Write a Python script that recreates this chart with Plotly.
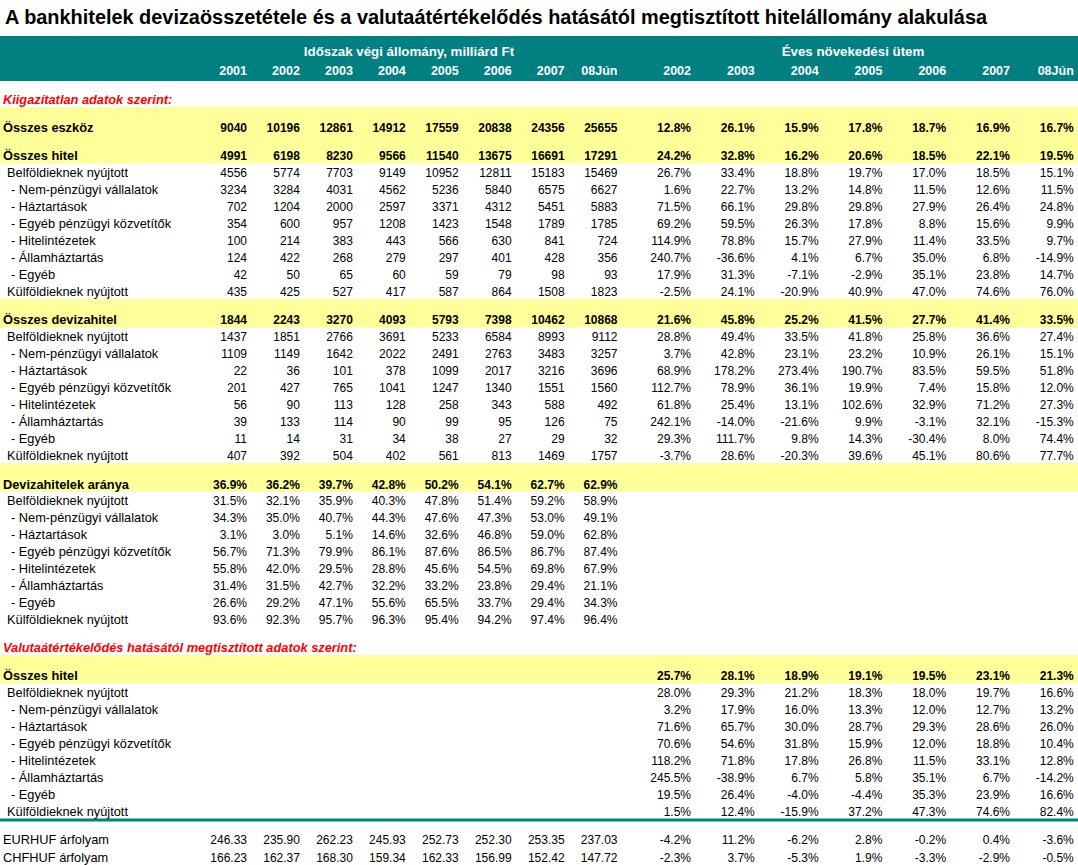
import plotly.graph_objects as go

# ---------------- data ----------------
title_text = "A bankhitelek devizaösszetétele és a valutaátértékelődés hatásától megtisztított hitelállomány alakulása"
header_stock = "Időszak végi állomány, milliárd Ft"
header_growth = "Éves növekedési ütem"
years_stock = ["2001", "2002", "2003", "2004", "2005", "2006", "2007", "08Jún"]
years_growth = ["2002", "2003", "2004", "2005", "2006", "2007", "08Jún"]

section1_label = "Kiigazítatlan adatok szerint:"
section2_label = "Valutaátértékelődés hatásától megtisztított adatok szerint:"

sub_labels = ["Belföldieknek nyújtott", "- Nem-pénzügyi vállalatok", "- Háztartások",
              "- Egyéb pénzügyi közvetítők", "- Hitelintézetek", "- Államháztartás",
              "- Egyéb", "Külföldieknek nyújtott"]
sub_levels = [1, 2, 2, 2, 2, 2, 2, 1]

eszkoz_stock = [9040, 10196, 12861, 14912, 17559, 20838, 24356, 25655]
eszkoz_growth = [12.8, 26.1, 15.9, 17.8, 18.7, 16.9, 16.7]

hitel_stock = [4991, 6198, 8230, 9566, 11540, 13675, 16691, 17291]
hitel_growth = [24.2, 32.8, 16.2, 20.6, 18.5, 22.1, 19.5]
hitel_sub_stock = [
    [4556, 5774, 7703, 9149, 10952, 12811, 15183, 15469],
    [3234, 3284, 4031, 4562, 5236, 5840, 6575, 6627],
    [702, 1204, 2000, 2597, 3371, 4312, 5451, 5883],
    [354, 600, 957, 1208, 1423, 1548, 1789, 1785],
    [100, 214, 383, 443, 566, 630, 841, 724],
    [124, 422, 268, 279, 297, 401, 428, 356],
    [42, 50, 65, 60, 59, 79, 98, 93],
    [435, 425, 527, 417, 587, 864, 1508, 1823],
]
hitel_sub_growth = [
    [26.7, 33.4, 18.8, 19.7, 17.0, 18.5, 15.1],
    [1.6, 22.7, 13.2, 14.8, 11.5, 12.6, 11.5],
    [71.5, 66.1, 29.8, 29.8, 27.9, 26.4, 24.8],
    [69.2, 59.5, 26.3, 17.8, 8.8, 15.6, 9.9],
    [114.9, 78.8, 15.7, 27.9, 11.4, 33.5, 9.7],
    [240.7, -36.6, 4.1, 6.7, 35.0, 6.8, -14.9],
    [17.9, 31.3, -7.1, -2.9, 35.1, 23.8, 14.7],
    [-2.5, 24.1, -20.9, 40.9, 47.0, 74.6, 76.0],
]

deviza_stock = [1844, 2243, 3270, 4093, 5793, 7398, 10462, 10868]
deviza_growth = [21.6, 45.8, 25.2, 41.5, 27.7, 41.4, 33.5]
deviza_sub_stock = [
    [1437, 1851, 2766, 3691, 5233, 6584, 8993, 9112],
    [1109, 1149, 1642, 2022, 2491, 2763, 3483, 3257],
    [22, 36, 101, 378, 1099, 2017, 3216, 3696],
    [201, 427, 765, 1041, 1247, 1340, 1551, 1560],
    [56, 90, 113, 128, 258, 343, 588, 492],
    [39, 133, 114, 90, 99, 95, 126, 75],
    [11, 14, 31, 34, 38, 27, 29, 32],
    [407, 392, 504, 402, 561, 813, 1469, 1757],
]
deviza_sub_growth = [
    [28.8, 49.4, 33.5, 41.8, 25.8, 36.6, 27.4],
    [3.7, 42.8, 23.1, 23.2, 10.9, 26.1, 15.1],
    [68.9, 178.2, 273.4, 190.7, 83.5, 59.5, 51.8],
    [112.7, 78.9, 36.1, 19.9, 7.4, 15.8, 12.0],
    [61.8, 25.4, 13.1, 102.6, 32.9, 71.2, 27.3],
    [242.1, -14.0, -21.6, 9.9, -3.1, 32.1, -15.3],
    [29.3, 111.7, 9.8, 14.3, -30.4, 8.0, 74.4],
    [-3.7, 28.6, -20.3, 39.6, 45.1, 80.6, 77.7],
]

arany = [36.9, 36.2, 39.7, 42.8, 50.2, 54.1, 62.7, 62.9]
arany_sub = [
    [31.5, 32.1, 35.9, 40.3, 47.8, 51.4, 59.2, 58.9],
    [34.3, 35.0, 40.7, 44.3, 47.6, 47.3, 53.0, 49.1],
    [3.1, 3.0, 5.1, 14.6, 32.6, 46.8, 59.0, 62.8],
    [56.7, 71.3, 79.9, 86.1, 87.6, 86.5, 86.7, 87.4],
    [55.8, 42.0, 29.5, 28.8, 45.6, 54.5, 69.8, 67.9],
    [31.4, 31.5, 42.7, 32.2, 33.2, 23.8, 29.4, 21.1],
    [26.6, 29.2, 47.1, 55.6, 65.5, 33.7, 29.4, 34.3],
    [93.6, 92.3, 95.7, 96.3, 95.4, 94.2, 97.4, 96.4],
]

tiszt_growth = [25.7, 28.1, 18.9, 19.1, 19.5, 23.1, 21.3]
tiszt_sub_growth = [
    [28.0, 29.3, 21.2, 18.3, 18.0, 19.7, 16.6],
    [3.2, 17.9, 16.0, 13.3, 12.0, 12.7, 13.2],
    [71.6, 65.7, 30.0, 28.7, 29.3, 28.6, 26.0],
    [70.6, 54.6, 31.8, 15.9, 12.0, 18.8, 10.4],
    [118.2, 71.8, 17.8, 26.8, 11.5, 33.1, 12.8],
    [245.5, -38.9, 6.7, 5.8, 35.1, 6.7, -14.2],
    [19.5, 26.4, -4.0, -4.4, 35.3, 23.9, 16.6],
    [1.5, 12.4, -15.9, 37.2, 47.3, 74.6, 82.4],
]

fx_labels = ["EURHUF árfolyam", "CHFHUF árfolyam"]
eurhuf = [246.33, 235.90, 262.23, 245.93, 252.73, 252.30, 253.35, 237.03]
eurhuf_growth = [-4.2, 11.2, -6.2, 2.8, -0.2, 0.4, -3.6]
chfhuf = [166.23, 162.37, 168.30, 159.34, 162.33, 156.99, 152.42, 147.72]
chfhuf_growth = [-2.3, 3.7, -5.3, 1.9, -3.3, -2.9, -0.5]

# ---------------- layout / style ----------------
W, H = 1078, 865
TEAL = "#008080"
YELLOW = "#FFFF99"
RED = "#FF0000"
FONT = "Arial, 'Liberation Sans', sans-serif"
NUM_SIZE = 12
LAB_SIZE = 12.8
DY = 2.0  # vertical text nudge

stock_x = [247 + i * 52.93 for i in range(len(years_stock))]
growth_x = [691 + i * 63.8 for i in range(len(years_growth))]
label_x = {0: 3, 1: 7, 2: 11}
ROW = 17

fig = go.Figure()


def fmt_int(v):
    return f"{v:d}"


def fmt_pct(v):
    return f"{v:.1f}%"


def fmt_fx(v):
    return f"{v:.2f}"


def add_text(xs, y, texts, pos, bold=False, color="black", size=NUM_SIZE, italic=False):
    fig.add_trace(go.Scatter(
        x=xs, y=[y + DY] * len(xs), text=texts, mode="text", textposition=pos,
        textfont=dict(family=FONT, size=size, color=color,
                      weight="bold" if bold else "normal",
                      style="italic" if italic else "normal"),
        hoverinfo="skip", showlegend=False, cliponaxis=False))


def add_row(y, label, level, stock=None, growth=None, bold=False, sfmt=fmt_int):
    add_text([label_x[level]], y, [label], "middle right", bold=bold, size=LAB_SIZE)
    if stock is not None:
        add_text(stock_x, y, [sfmt(v) for v in stock], "middle left", bold=bold)
    if growth is not None:
        add_text(growth_x, y, [fmt_pct(v) for v in growth], "middle left", bold=bold)


shapes = []


def band(y0, y1, color):
    shapes.append(dict(type="rect", xref="x", yref="y", x0=0, x1=W, y0=y0, y1=y1,
                       fillcolor=color, line=dict(width=0), layer="below"))


# header
band(36, 81, TEAL)
band(107, 163.5, YELLOW)
band(299, 327.5, YELLOW)
band(463, 491.5, YELLOW)
band(655, 683.5, YELLOW)
band(818.5, 821.5, TEAL)

add_text([409], 50.5, [header_stock], "middle center", bold=True, color="white", size=13.3)
add_text([853], 50.5, [header_growth], "middle center", bold=True, color="white", size=13.3)
add_text(stock_x, 70.3, years_stock, "middle left", bold=True, color="white", size=12.5)
add_text(growth_x, 70.3, years_growth, "middle left", bold=True, color="white", size=12.5)

# section 1
add_text([3], 99.3, [section1_label], "middle right", bold=True, color=RED, size=LAB_SIZE, italic=True)
add_row(127.3, "Összes eszköz", 0, eszkoz_stock, eszkoz_growth, bold=True)
add_row(155.3, "Összes hitel", 0, hitel_stock, hitel_growth, bold=True)
for i, lab in enumerate(sub_labels):
    add_row(172.3 + ROW * i, lab, sub_levels[i], hitel_sub_stock[i], hitel_sub_growth[i])

# foreign currency loans
add_row(319, "Összes devizahitel", 0, deviza_stock, deviza_growth, bold=True)
for i, lab in enumerate(sub_labels):
    add_row(336.3 + ROW * i, lab, sub_levels[i], deviza_sub_stock[i], deviza_sub_growth[i])

# share of FX loans
add_row(483.7, "Devizahitelek aránya", 0, arany, None, bold=True, sfmt=fmt_pct)
for i, lab in enumerate(sub_labels):
    add_row(500.3 + ROW * i, lab, sub_levels[i], arany_sub[i], None, sfmt=fmt_pct)

# section 2
add_text([3], 647.3, [section2_label], "middle right", bold=True, color=RED, size=LAB_SIZE, italic=True)
add_row(675, "Összes hitel", 0, None, tiszt_growth, bold=True)
for i, lab in enumerate(sub_labels):
    add_row(692.3 + ROW * i, lab, sub_levels[i], None, tiszt_sub_growth[i])

# exchange rates
add_row(839.3, fx_labels[0], 0, eurhuf, eurhuf_growth, sfmt=fmt_fx)
add_row(856.7, fx_labels[1], 0, chfhuf, chfhuf_growth, sfmt=fmt_fx)

fig.update_layout(
    width=W, height=H, margin=dict(l=0, r=0, t=0, b=0),
    paper_bgcolor="white", plot_bgcolor="white",
    xaxis=dict(range=[0, W], visible=False, fixedrange=True),
    yaxis=dict(range=[H, 0], visible=False, fixedrange=True),
    shapes=shapes,
    annotations=[dict(x=3, y=17, xref="x", yref="y", text=f"<b>{title_text}</b>",
                      showarrow=False, xanchor="left", yanchor="middle",
                      font=dict(family=FONT, size=19.9, color="black"))],
)

fig.write_html("out.html", config={"displayModeBar": False},
               post_script="document.body.style.margin='0';document.body.style.overflow='hidden';")
